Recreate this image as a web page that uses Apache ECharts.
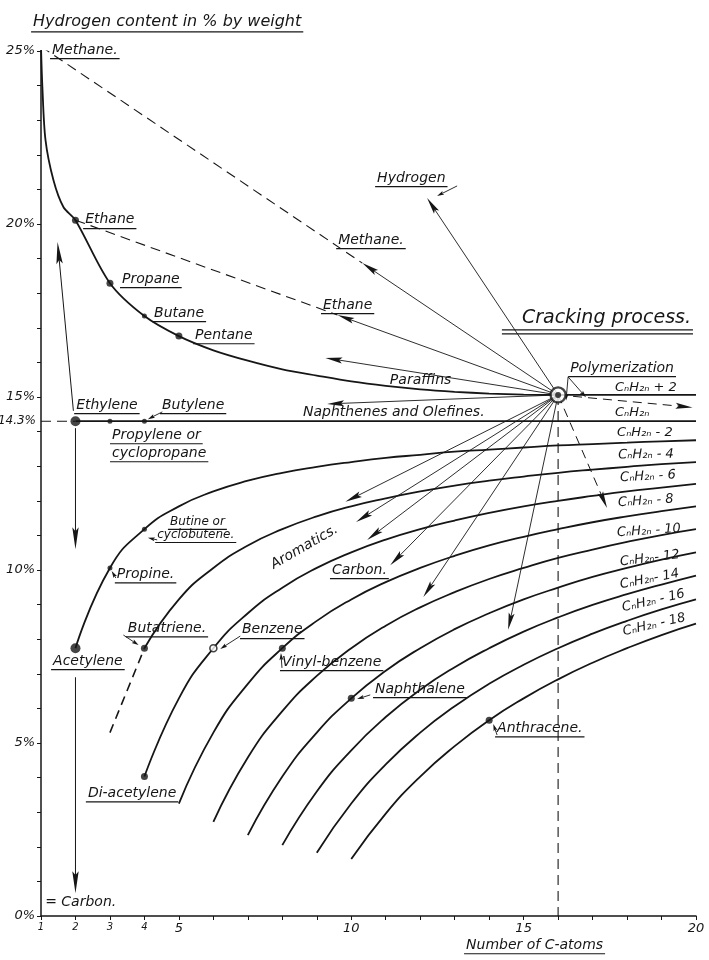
<!DOCTYPE html>
<html>
<head>
<meta charset="utf-8">
<script src="https://cdn.jsdelivr.net/npm/echarts@6/dist/echarts.min.js"></script>
<style>
  html, body { margin: 0; background: #fff; }
  #chart { width: 709px; height: 960px; }
</style>
</head>
<body>
<div id="chart"></div>
<script>
// Hydrogen content (% by weight) against number of C-atoms, with the cracking fan.

const INK = "#161616";
const FAM = '"DejaVu Sans", sans-serif';

// --- curves: hydrogen % read per carbon count --------------------------------
const nParaffin = [1, 1.04, 1.13, 1.36, 1.65, 2, 3, 4, 5, 6, 7, 8, 9, 10, 11, 12, 13, 14, 15, 16, 17, 18, 19, 20];
const hParaffin = [25.13, 23.96, 22.43, 21.27, 20.49, 20.11, 18.29, 17.34, 16.76, 16.35, 16.05, 15.80, 15.62, 15.45,
  15.32, 15.22, 15.15, 15.10, 15.07, 15.06, 15.06, 15.06, 15.06, 15.06];

const nOlefin = [2, 20];
const hOlefin = [14.3, 14.3];

// each list starts at the first carbon count given in curveStart
const hMinus2 = [7.74, 10.06, 11.18, 11.84, 12.27, 12.58, 12.81, 12.98, 13.12, 13.24, 13.33, 13.42, 13.48, 13.54, 13.60, 13.64, 13.68, 13.72, 13.75];
const hMinus4 = [5.30, 7.74, 9.15, 10.06, 10.71, 11.18, 11.55, 11.84, 12.07, 12.27, 12.44, 12.58, 12.70, 12.81, 12.90, 12.98, 13.06, 13.12];
const hMinus6 = [4.03, 6.29, 7.74, 8.75, 9.49, 10.06, 10.51, 10.88, 11.18, 11.43, 11.65, 11.84, 12.00, 12.14, 12.27, 12.38, 12.49];
const hMinus8 = [3.25, 5.30, 6.71, 7.74, 8.53, 9.15, 9.65, 10.06, 10.41, 10.71, 10.96, 11.18, 11.38, 11.55, 11.70, 11.84];
const hMinus10 = [2.72, 4.58, 5.92, 6.94, 7.74, 8.39, 8.92, 9.36, 9.74, 10.06, 10.35, 10.59, 10.81, 11.01, 11.18];
const hMinus12 = [2.34, 4.03, 5.30, 6.29, 7.09, 7.74, 8.29, 8.75, 9.15, 9.49, 9.80, 10.06, 10.30, 10.51];
const hMinus14 = [2.05, 3.60, 4.79, 5.75, 6.54, 7.19, 7.74, 8.22, 8.63, 8.99, 9.30, 9.58, 9.84];
const hMinus16 = [1.83, 3.25, 4.38, 5.30, 6.06, 6.71, 7.26, 7.74, 8.16, 8.53, 8.86, 9.15];
const hMinus18 = [1.65, 2.96, 4.03, 4.91, 5.66, 6.29, 6.84, 7.32, 7.74, 8.12, 8.45];

const curveLists = [hMinus2, hMinus4, hMinus6, hMinus8, hMinus10, hMinus12, hMinus14, hMinus16, hMinus18];
const curveStart = [2, 3, 4, 5, 6, 7, 8, 9, 10];

// --- named compounds on the curves -------------------------------------------
const compounds = [
  ["Methane", 1, 25.13, "big"], ["Ethane", 2, 20.11, "mid"], ["Propane", 3, 18.29, "mid"],
  ["Butane", 4, 17.34, "small"], ["Pentane", 5, 16.76, "mid"],
  ["Ethylene", 2, 14.3, "big"], ["Propylene", 3, 14.3, "small"], ["Butylene", 4, 14.3, "small"],
  ["Acetylene", 2, 7.74, "big"], ["Propine", 3, 10.06, "small"], ["Butine", 4, 11.18, "small"],
  ["Butatriene", 4, 7.74, "mid"], ["Benzene", 6, 7.74, "ring"], ["Vinyl-benzene", 8, 7.74, "mid"],
  ["Naphthalene", 10, 6.29, "mid"], ["Anthracene", 14, 5.66, "mid"], ["Di-acetylene", 4, 4.03, "mid"],
];

// --- cracking fan ------------------------------------------------------------
const crackPoint = [16, 15.06];
const crackTargets = [
  [12.2, 20.75], [10.32, 18.87], [9.6, 17.37], [9.25, 16.13], [9.3, 14.8],
  [9.83, 11.97], [10.14, 11.39], [10.46, 10.87], [11.13, 10.14], [12.09, 9.22], [14.55, 8.27],
];
const crackDashedTargets = [[17.42, 11.79], [19.9, 14.7]];

// dashed guide lines [n0, v0, n1, v1]
const dashedLines = [
  [1, 25.13, 10.32, 18.87],
  [2, 20.11, 9.6, 17.37],
  [1, 14.3, 2, 14.3],
  [16, 15.06, 16, 0],
];

// other arrows [n0, v0, n1, v1]
const sideArrows = [
  [1.94, 14.6, 1.48, 19.48],
  [2, 14.1, 2, 10.6],
  [2, 6.9, 2, 0.66],
];
const leaderArrows = [
  [13.07, 21.1, 12.49, 20.81],
  [16.29, 15.58, 16.23, 14.9],
  [16.29, 15.58, 16.81, 14.99],
  [4.52, 14.57, 4.1, 14.36],
  [3.39, 8.12, 3.83, 7.83],
  [6.78, 8.09, 6.2, 7.72],
  [10.55, 6.39, 10.17, 6.27],
  [3.17, 9.77, 3.05, 9.97],
  [4.37, 10.87, 4.1, 10.93],
  [14.23, 5.23, 14.12, 5.55],
  [7.99, 7.17, 7.96, 7.6],
];

// --- lettering ---------------------------------------------------------------
const curveNames = ["CₙH₂ₙ + 2", "CₙH₂ₙ", "CₙH₂ₙ - 2", "CₙH₂ₙ - 4", "CₙH₂ₙ - 6", "CₙH₂ₙ - 8",
  "CₙH₂ₙ - 10", "CₙH₂ₙ- 12", "CₙH₂ₙ- 14", "CₙH₂ₙ - 16", "CₙH₂ₙ - 18"];
const curveNameAt = [[17.65, 15.26], [17.65, 14.54], [17.71, 13.96], [17.74, 13.32], [17.8, 12.66],
  [17.74, 11.94], [17.71, 11.07], [17.8, 10.23], [17.8, 9.57], [17.86, 8.9], [17.88, 8.21]];
const curveNameTilt = [0, 0, 0, 1, 3, 4, 4, 7, 11, 13, 13];

const notes = [
  { t: "Hydrogen content in % by weight", n: 0.77, v: 25.84, size: 16, ul: 1 },
  { t: "Methane.", n: 1.32, v: 25.03, ul: 1 },
  { t: "Ethane", n: 2.28, v: 20.12, ul: 1 },
  { t: "Propane", n: 3.35, v: 18.41, ul: 1 },
  { t: "Butane", n: 4.28, v: 17.43, ul: 1 },
  { t: "Pentane", n: 5.47, v: 16.79, ul: 1 },
  { t: "Ethylene", n: 2.02, v: 14.77, ul: 1 },
  { t: "Butylene", n: 4.51, v: 14.77, ul: 1 },
  { t: "Propylene or", n: 3.06, v: 13.9, ul: 1 },
  { t: "cyclopropane", n: 3.06, v: 13.38, ul: 1 },
  { t: "Naphthenes and Olefines.", n: 8.6, v: 14.57 },
  { t: "Paraffins", n: 11.12, v: 15.49 },
  { t: "Hydrogen", n: 10.75, v: 21.33, ul: 1 },
  { t: "Methane.", n: 9.62, v: 19.54, ul: 1 },
  { t: "Ethane", n: 9.18, v: 17.66, ul: 1 },
  { t: "Cracking process.", n: 14.95, v: 17.28, size: 19, ul: 2 },
  { t: "Polymerization", n: 16.35, v: 15.84, ul: 1 },
  { t: "Butine or", n: 4.74, v: 11.39, size: 12, ul: 1 },
  { t: "cyclobutene.", n: 4.37, v: 11.01, size: 12, ul: 1 },
  { t: "Propine.", n: 3.2, v: 9.88, ul: 1 },
  { t: "Acetylene", n: 1.35, v: 7.37, ul: 1 },
  { t: "Butatriene.", n: 3.52, v: 8.32, ul: 1 },
  { t: "Benzene", n: 6.83, v: 8.27, ul: 1 },
  { t: "Vinyl-benzene", n: 7.99, v: 7.34, ul: 1 },
  { t: "Naphthalene", n: 10.69, v: 6.56, ul: 1 },
  { t: "Anthracene.", n: 14.23, v: 5.43, ul: 1 },
  { t: "Di-acetylene", n: 2.36, v: 3.55, ul: 1 },
  { t: "Aromatics.", n: 7.7, v: 10.12, rot: 30 },
  { t: "Carbon.", n: 9.44, v: 10.0, ul: 1 },
  { t: "= Carbon.", n: 1.12, v: 0.38 },
  { t: "Number of C-atoms", n: 13.33, v: -0.84, ul: 1 },
  { t: "14.3%", n: 1, v: 14.3, size: 12, align: "right" },
];
curveNames.forEach((t, i) =>
  notes.push({ t, n: curveNameAt[i][0], v: curveNameAt[i][1], size: 13, rot: curveNameTilt[i] }));

const xLabelsShown = [1, 2, 3, 4, 5, 10, 15, 20];

// --- helpers -----------------------------------------------------------------
const measure = document.createElement("canvas").getContext("2d");
const fontOf = (size) => `italic ${size}px ${FAM}`;

const zip = (xs, ys) => xs.map((x, i) => [x, ys[i]]);
const fromStart = (list, start) => list.map((v, i) => [start + i, v]);

function curve(data, extra = {}) {
  return {
    type: "line", data, showSymbol: false, smooth: 0.5,
    lineStyle: { color: INK, width: 1.8 }, silent: true, z: 2, ...extra,
  };
}

function arrowSeries(list, head, dashed) {
  return {
    type: "custom", clip: false, silent: true, z: 3,
    data: list,
    encode: { x: [0, 2], y: [1, 3] },
    renderItem(params, api) {
      const a = list[params.dataIndex];
      const p0 = api.coord([a[0], a[1]]);
      const p1 = api.coord([a[2], a[3]]);
      const dx = p1[0] - p0[0], dy = p1[1] - p0[1];
      const len = Math.hypot(dx, dy) || 1;
      const ux = dx / len, uy = dy / len;
      const bx = p1[0] - ux * head.len, by = p1[1] - uy * head.len;
      const nx = p1[0] - ux * head.len * 0.82, ny = p1[1] - uy * head.len * 0.82;
      return {
        type: "group",
        children: [
          { type: "line", shape: { x1: p0[0], y1: p0[1], x2: nx, y2: ny },
            style: { stroke: INK, lineWidth: head.lw, lineDash: dashed ? [9, 6] : null } },
          { type: "polygon",
            shape: { points: [p1, [bx - uy * head.w, by + ux * head.w], [nx, ny], [bx + uy * head.w, by - ux * head.w]] },
            style: { fill: INK } },
        ],
      };
    },
  };
}

const notesSeries = {
  type: "custom", clip: false, silent: true, z: 4,
  data: notes.map((d) => [d.n, d.v]),
  renderItem(params, api) {
    const d = notes[params.dataIndex];
    const size = d.size || 14;
    const font = fontOf(size);
    measure.font = font;
    const w = measure.measureText(d.t).width;
    const [x, y] = api.coord([d.n, d.v]);
    const right = d.align === "right";
    const x0 = right ? -5 - w : 0;
    const children = [{
      type: "text",
      style: { text: d.t, x: x0, y: 0, font, fill: INK, align: "left", verticalAlign: "middle",
        textAlign: "left", textVerticalAlign: "middle" },
    }];
    const uy = size * 0.62;
    if (d.ul) {
      children.push({ type: "line", shape: { x1: x0 - 2, y1: uy, x2: x0 + w + 2, y2: uy },
        style: { stroke: INK, lineWidth: 1.2 } });
    }
    if (d.ul === 2) {
      children[1].shape.x1 = x0 - 20;
      children.push({ type: "line", shape: { x1: x0 - 20, y1: uy + 4, x2: x0 + w + 2, y2: uy + 4 },
        style: { stroke: INK, lineWidth: 1.2 } });
    }
    return { type: "group", x, y, rotation: ((d.rot || 0) * Math.PI) / 180, children };
  },
};

const dotSize = { big: 10, mid: 7, small: 5 };
const dotSeries = ["big", "mid", "small"].map((k) => ({
  type: "scatter", z: 5, silent: true, symbol: "circle", symbolSize: dotSize[k],
  itemStyle: { color: INK },
  data: compounds.filter((c) => c[3] === k).map((c) => [c[1], c[2]]),
}));
dotSeries.push({
  type: "scatter", z: 5, silent: true, symbol: "circle", symbolSize: 7,
  itemStyle: { color: "#fff", borderColor: INK, borderWidth: 1.6 },
  data: compounds.filter((c) => c[3] === "ring").map((c) => [c[1], c[2]]),
});

// --- chart -------------------------------------------------------------------
const chart = echarts.init(document.getElementById("chart"), null, { renderer: "canvas" });

const series = [
  curve(zip(nParaffin, hParaffin), { smooth: 0.3 }),
  curve(zip(nOlefin, hOlefin)),
  ...curveLists.map((list, i) => {
    const pts = fromStart(list, curveStart[i]);
    // the first step of the CnH2n-4 curve is only sketched (dashed)
    return curve(i === 1 ? pts.slice(1) : pts);
  }),
  curve(fromStart(hMinus4, 3).slice(0, 2), { smooth: false, lineStyle: { color: INK, width: 1.6, type: [9, 6] } }),
  ...dashedLines.map((l) => ({
    type: "line", data: [[l[0], l[1]], [l[2], l[3]]], showSymbol: false, silent: true, z: 2,
    lineStyle: { color: INK, width: 1.1, type: [10, 6] },
  })),
  arrowSeries(crackTargets.map((t) => [crackPoint[0], crackPoint[1], t[0], t[1]]), { len: 17, w: 3, lw: 0.9 }, false),
  arrowSeries(crackDashedTargets.map((t) => [crackPoint[0], crackPoint[1], t[0], t[1]]), { len: 17, w: 3, lw: 1 }, true),
  arrowSeries(sideArrows, { len: 22, w: 3.2, lw: 1 }, false),
  arrowSeries(leaderArrows, { len: 7, w: 2, lw: 0.9 }, false),
  notesSeries,
  ...dotSeries,
  {
    type: "scatter", z: 6, silent: true, symbol: "circle", symbolSize: 15,
    itemStyle: { color: "#fff", borderColor: INK, borderWidth: 2.4 },
    data: [crackPoint],
  },
  {
    type: "scatter", z: 7, silent: true, symbol: "circle", symbolSize: 6,
    itemStyle: { color: INK }, data: [crackPoint],
  },
];

chart.setOption({
  animation: false,
  backgroundColor: "#fff",
  grid: { left: 41, right: 13, top: 51, bottom: 44 },
  xAxis: {
    type: "value", min: 1, max: 20, interval: 1,
    axisLine: { lineStyle: { color: INK, width: 1.5 } },
    axisTick: { length: 4, lineStyle: { color: INK, width: 1 } },
    splitLine: { show: false },
    axisLabel: {
      margin: 6, color: INK,
      formatter: (v) => (xLabelsShown.includes(v) ? (v < 5 ? `{s|${v}}` : `{b|${v}}`) : ""),
      rich: {
        s: { fontFamily: FAM, fontStyle: "italic", fontSize: 10, color: INK },
        b: { fontFamily: FAM, fontStyle: "italic", fontSize: 13, color: INK },
      },
    },
  },
  yAxis: {
    type: "value", min: 0, max: 25, interval: 1,
    axisLine: { show: true, lineStyle: { color: INK, width: 1.5 } },
    axisTick: { show: true, length: 4, lineStyle: { color: INK, width: 1 } },
    splitLine: { show: false },
    axisLabel: {
      margin: 6, color: INK, fontFamily: FAM, fontStyle: "italic", fontSize: 13,
      formatter: (v) => (v % 5 === 0 ? `${v}%` : ""),
    },
  },
  series,
});
</script>
</body>
</html>
